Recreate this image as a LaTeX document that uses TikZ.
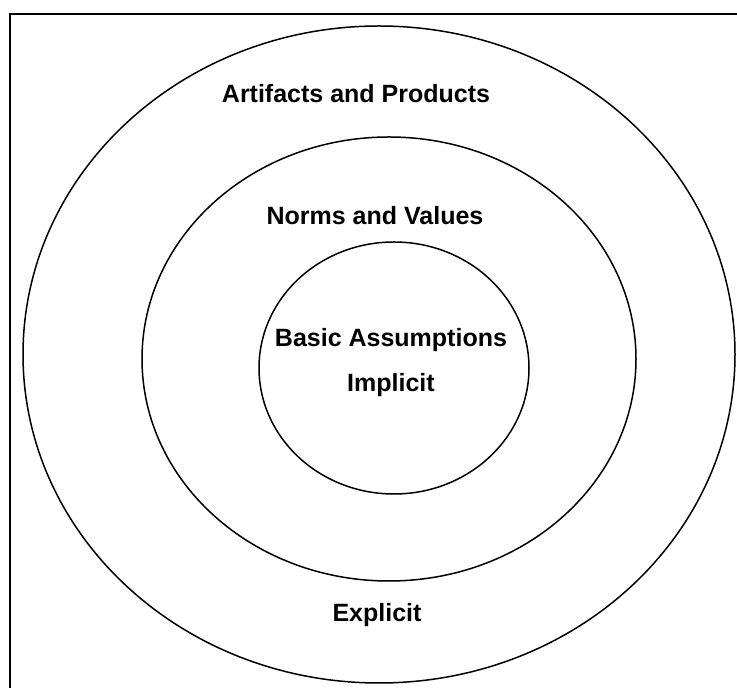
\documentclass[tikz,border=0pt]{standalone}
\usepackage{fontspec}
\setmainfont{Liberation Sans}
\usetikzlibrary{shapes.geometric}
\begin{document}
\begin{tikzpicture}[x=1pt,y=1pt,
  ring/.style={draw=black, line width=1.5pt, ellipse, inner sep=0pt},
  lbl/.style={font=\fontsize{25}{30}\selectfont\bfseries, inner sep=0pt}]
\useasboundingbox (0,0) rectangle (737,688);
\draw[line width=2pt] (10,-5) -- (10,674) -- (745,674);
\node[ring, minimum width=712pt, minimum height=657pt] (outer) at (379,333.5) {};
\node[ring, minimum width=494pt, minimum height=444pt] (middle) at (389,329) {};
\node[ring, minimum width=270pt, minimum height=252pt] (inner) at (394,320) {};
\node[lbl] (art) at (356,594.5) {Artifacts and Products};
\node[lbl] (norms) at (375,472.5) {Norms and Values};
\node[lbl] (basic) at (391,347.5) {Basic Assumptions};
\node[lbl] (impl) at (391,302.5) {Implicit};
\node[lbl] (expl) at (377,72.5) {Explicit};
\end{tikzpicture}
\end{document}
